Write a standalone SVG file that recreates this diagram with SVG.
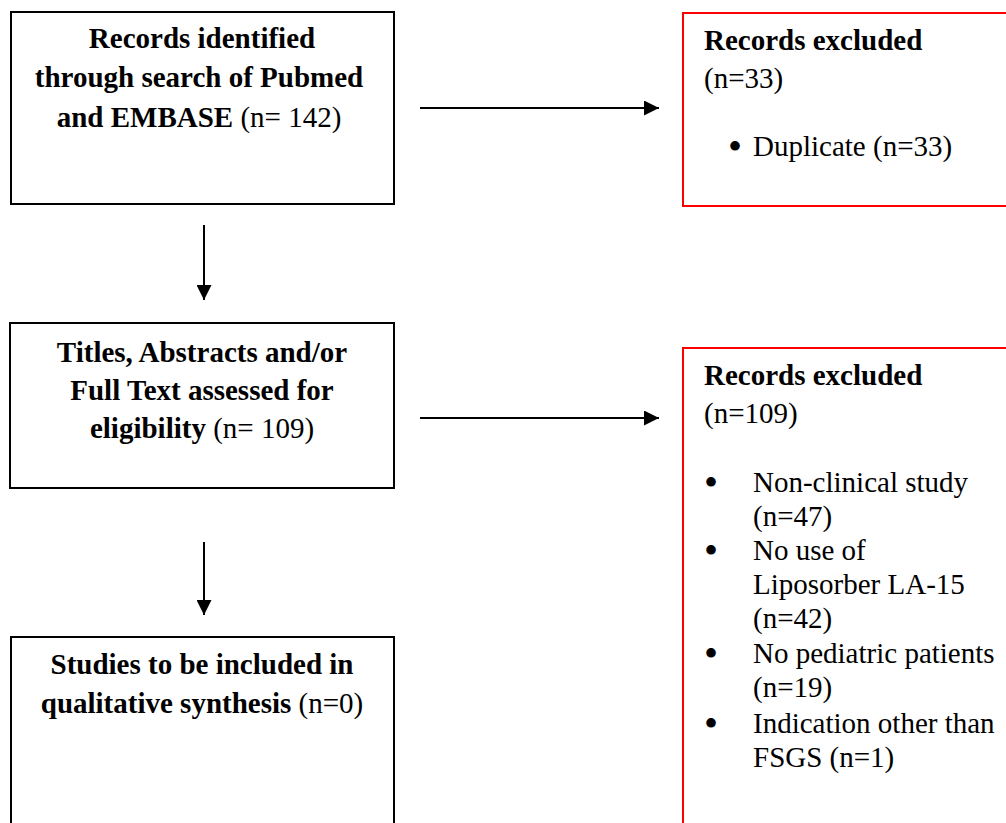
<svg xmlns="http://www.w3.org/2000/svg" width="1006" height="823" viewBox="0 0 1006 823">
<style>
text{font-family:"Liberation Serif","Times New Roman",serif;font-size:29px;fill:#000}
.b{font-weight:bold}
.c{text-anchor:middle}
.bu{font-size:40px}
.box{fill:#fff;stroke:#000;stroke-width:2}
.red{fill:#fff;stroke:#ff0000;stroke-width:2}
.conn{stroke:#000;stroke-width:2;fill:none}
</style>
<defs>
<marker id="ah" viewBox="0 0 10 10" refX="10" refY="5" markerWidth="15" markerHeight="15" markerUnits="userSpaceOnUse" orient="auto">
<path d="M0,0 L10,5 L0,10 z" fill="#000"/>
</marker>
</defs>
<rect width="1006" height="823" fill="#fff"/>
<g id="n1">
<rect class="box" x="11" y="12" width="383" height="192"/>
<text class="c" x="202" y="48"><tspan class="b">Records identified</tspan></text>
<text class="c" x="199" y="87"><tspan class="b">through search of Pubmed</tspan></text>
<text class="c" x="199" y="127"><tspan class="b">and EMBASE</tspan> (n= 142)</text>
</g>
<g id="n2">
<rect class="red" x="683" y="13" width="330" height="193"/>
<text class="b" x="704" y="50">Records excluded</text>
<text x="704" y="88">(n=33)</text>
<text class="bu" x="728" y="160">•</text>
<text x="753" y="156">Duplicate (n=33)</text>
</g>
<g id="n3">
<rect class="box" x="10" y="323" width="384" height="165"/>
<text class="c" x="202" y="362"><tspan class="b">Titles, Abstracts and/or</tspan></text>
<text class="c" x="202" y="400"><tspan class="b">Full Text assessed for</tspan></text>
<text class="c" x="202" y="438"><tspan class="b">eligibility</tspan> (n= 109)</text>
</g>
<g id="n4">
<rect class="red" x="683" y="348" width="330" height="500"/>
<text class="b" x="704" y="385">Records excluded</text>
<text x="704" y="423">(n=109)</text>
<text class="bu" x="704" y="496">•</text>
<text x="753" y="492">Non-clinical study</text>
<text x="753" y="526">(n=47)</text>
<text class="bu" x="704" y="564">•</text>
<text x="753" y="560">No use of</text>
<text x="753" y="594">Liposorber LA-15</text>
<text x="753" y="628">(n=42)</text>
<text class="bu" x="704" y="667">•</text>
<text x="753" y="663">No pediatric patients</text>
<text x="753" y="697">(n=19)</text>
<text class="bu" x="704" y="737">•</text>
<text x="753" y="733">Indication other than</text>
<text x="753" y="767">FSGS (n=1)</text>
</g>
<g id="n5">
<rect class="box" x="11" y="637" width="383" height="220"/>
<text class="c" x="202" y="674"><tspan class="b">Studies to be included in</tspan></text>
<text class="c" x="202" y="713"><tspan class="b">qualitative synthesis</tspan> (n=0)</text>
</g>
<g id="connectors">
<line class="conn" x1="420" y1="108" x2="659" y2="108" marker-end="url(#ah)"/>
<line class="conn" x1="420" y1="418" x2="659" y2="418" marker-end="url(#ah)"/>
<line class="conn" x1="204" y1="225" x2="204" y2="300" marker-end="url(#ah)"/>
<line class="conn" x1="204" y1="542" x2="204" y2="615" marker-end="url(#ah)"/>
</g>
</svg>
